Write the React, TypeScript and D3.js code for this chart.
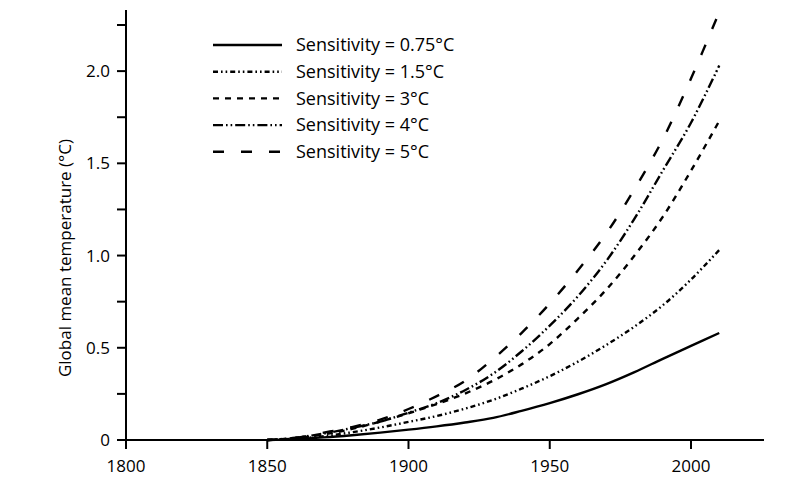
import React, { useEffect, useRef } from "react";
import * as d3 from "d3";

const years = [1850, 1860, 1870, 1880, 1890, 1900, 1910, 1920, 1930, 1940, 1950, 1960, 1970, 1980, 1990, 2000, 2010];
const s075 = [0, 0.005, 0.014, 0.026, 0.04, 0.056, 0.074, 0.095, 0.12, 0.158, 0.2, 0.248, 0.303, 0.368, 0.44, 0.51, 0.58];
const s15 = [0, 0.007, 0.02, 0.042, 0.068, 0.098, 0.13, 0.17, 0.218, 0.278, 0.346, 0.425, 0.515, 0.615, 0.73, 0.87, 1.03];
const s3 = [0, 0.01, 0.03, 0.06, 0.1, 0.145, 0.195, 0.252, 0.322, 0.41, 0.52, 0.66, 0.815, 1.0, 1.21, 1.46, 1.73];
const s4 = [0, 0.012, 0.035, 0.065, 0.1, 0.148, 0.2, 0.27, 0.36, 0.48, 0.62, 0.78, 0.97, 1.2, 1.46, 1.72, 2.03];
const s5 = [0, 0.012, 0.04, 0.07, 0.11, 0.168, 0.238, 0.32, 0.44, 0.58, 0.74, 0.92, 1.12, 1.36, 1.63, 1.96, 2.32];

const seriesLabels = [
  "Sensitivity = 0.75\u00B0C",
  "Sensitivity = 1.5\u00B0C",
  "Sensitivity = 3\u00B0C",
  "Sensitivity = 4\u00B0C",
  "Sensitivity = 5\u00B0C",
];
const seriesValues = [s075, s15, s3, s4, s5];
const dashes = ["none", "5,3,1.6,3,1.6,3", "6,6", "10,3,1.6,3,1.6,3", "11,17"];

const xTicks = [1800, 1850, 1900, 1950, 2000];
const yMajor = [0, 0.5, 1.0, 1.5, 2.0];
const yMinor = [0.25, 0.75, 1.25, 1.75, 2.25];
const yLabel = "Global mean temperature (\u00B0C)";

export default function App() {
  const ref = useRef<SVGSVGElement>(null);
  useEffect(() => {
    const svg = d3.select(ref.current);
    svg.selectAll("*").remove();
    const font = "'Open Sans', sans-serif";
    const x = d3.scaleLinear().domain([1800, 2000]).range([126, 691]);
    const y = d3.scaleLinear().domain([0, 2.25]).range([440, 25]);

    // lines
    const line = d3
      .line<number>()
      .x((_, i) => x(years[i]))
      .y((d) => y(d))
      .curve(d3.curveCatmullRom.alpha(0.5));
    seriesValues.forEach((vals, k) => {
      svg
        .append("path")
        .attr("d", line(vals) as string)
        .attr("fill", "none")
        .attr("stroke", "#000")
        .attr("stroke-width", 2.4)
        .attr("stroke-dasharray", dashes[k]);
    });

    // axes
    svg.append("line").attr("x1", 118).attr("x2", 764).attr("y1", y(0)).attr("y2", y(0)).attr("stroke", "#000").attr("stroke-width", 2);
    svg.append("line").attr("x1", x(1800)).attr("x2", x(1800)).attr("y1", 10).attr("y2", y(0)).attr("stroke", "#000").attr("stroke-width", 2);

    xTicks.forEach((t) => {
      svg.append("line").attr("x1", x(t)).attr("x2", x(t)).attr("y1", y(0)).attr("y2", y(0) + 9).attr("stroke", "#000").attr("stroke-width", 2);
      svg
        .append("text")
        .attr("x", x(t))
        .attr("y", 472)
        .attr("text-anchor", "middle")
        .attr("font-family", font)
        .attr("font-size", 17)
        .text(String(t));
    });
    [...yMajor, ...yMinor].forEach((t) => {
      svg.append("line").attr("x1", x(1800) - 9).attr("x2", x(1800)).attr("y1", y(t)).attr("y2", y(t)).attr("stroke", "#000").attr("stroke-width", 2);
    });
    yMajor.forEach((t) => {
      svg
        .append("text")
        .attr("x", 110)
        .attr("y", y(t))
        .attr("dy", "0.35em")
        .attr("text-anchor", "end")
        .attr("font-family", font)
        .attr("font-size", 17)
        .text(t === 0 ? "0" : d3.format(".1f")(t));
    });
    svg
      .append("text")
      .attr("transform", `translate(71,${258}) rotate(-90)`)
      .attr("text-anchor", "middle")
      .attr("font-family", font)
      .attr("font-size", 17)
      .text(yLabel);

    // legend
    seriesLabels.forEach((lab, k) => {
      const ly = 45 + k * 26.7;
      svg.append("line").attr("x1", 213).attr("x2", 282).attr("y1", ly).attr("y2", ly).attr("stroke", "#000").attr("stroke-width", 2.4).attr("stroke-dasharray", dashes[k]);
      svg
        .append("text")
        .attr("x", 296)
        .attr("y", ly)
        .attr("dy", "0.35em")
        .attr("font-family", font)
        .attr("font-size", 18)
        .text(lab);
    });
  }, []);
  return (
    <svg
      ref={ref}
      width={800}
      height={481}
      style={{ position: "absolute", left: 0, top: 0, background: "#fff" }}
    />
  );
}
